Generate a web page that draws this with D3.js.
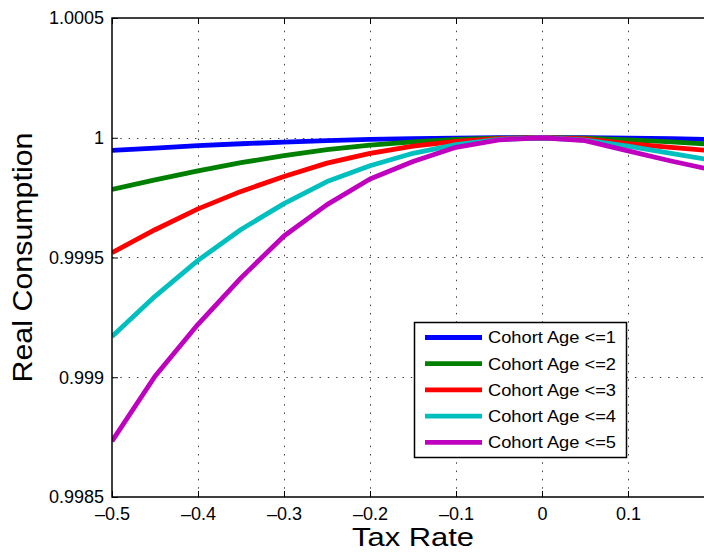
<!DOCTYPE html>
<html>
<head>
<meta charset="utf-8">
<script src="https://cdn.jsdelivr.net/npm/d3@7"></script>
<style>
  html, body { margin: 0; padding: 0; background: #fff; overflow: hidden; }
  svg { display: block; font-family: "Liberation Sans", Arial, Helvetica, sans-serif; }
</style>
</head>
<body>
<svg id="chart" width="704" height="552"></svg>
<script>
// ---- data ----
const taxRates = [-0.5, -0.45, -0.4, -0.35, -0.3, -0.25, -0.2, -0.15, -0.1, -0.05, 0, 0.05, 0.1, 0.15, 0.2];
const age1 = [0.999947, 0.999957, 0.999967, 0.999975, 0.999982, 0.999988, 0.999993, 0.999996, 0.999998, 1.0, 1.0, 1.0, 0.999998, 0.999996, 0.999992];
const age2 = [0.999784, 0.999824, 0.999862, 0.999896, 0.999925, 0.999950, 0.999969, 0.999983, 0.999993, 0.999998, 1.0, 0.999998, 0.999991, 0.999983, 0.999972];
const age3 = [0.999520, 0.999616, 0.999703, 0.999776, 0.999838, 0.999894, 0.999935, 0.999965, 0.999985, 0.999996, 1.0, 0.999995, 0.999975, 0.999960, 0.999945];
const age4 = [0.999170, 0.999338, 0.999488, 0.999617, 0.999725, 0.999817, 0.999883, 0.999935, 0.999971, 0.999993, 1.0, 0.999990, 0.999965, 0.999935, 0.999905];
const age5 = [0.998733, 0.999004, 0.999221, 0.999415, 0.999590, 0.999721, 0.999828, 0.999901, 0.999960, 0.999991, 1.0, 0.999988, 0.999945, 0.999903, 0.999864];
const seriesNames = ["Cohort Age <=1", "Cohort Age <=2", "Cohort Age <=3", "Cohort Age <=4", "Cohort Age <=5"];
const seriesColors = ["#0000ff", "#008000", "#ff0000", "#00bfbf", "#bf00bf"];
const xTickValues = [-0.5, -0.4, -0.3, -0.2, -0.1, 0, 0.1, 0.2];
const xTickLabels = ["\u20130.5", "\u20130.4", "\u20130.3", "\u20130.2", "\u20130.1", "0", "0.1", ""];
const yTickValues = [0.9985, 0.999, 0.9995, 1, 1.0005];
const yTickLabels = ["0.9985", "0.999", "0.9995", "1", "1.0005"];
const xTitle = "Tax Rate";
const yTitle = "Real Consumption";

// ---- layout ----
const mL = 112, mR = 714, mT = 18, mB = 497;
const svg = d3.select("#chart");
const x = d3.scaleLinear().domain([-0.5, 0.2]).range([mL, mR]);
const y = d3.scaleLinear().domain([0.9985, 1.0005]).range([mB, mT]);

// grid
const grid = svg.append("g").attr("stroke", "#444").attr("stroke-width", 1).attr("stroke-dasharray", "1.5,6.8");
grid.selectAll(".gx").data(xTickValues.slice(1)).enter().append("line")
  .attr("x1", d => Math.round(x(d)) + 0.5).attr("x2", d => Math.round(x(d)) + 0.5)
  .attr("y1", mB).attr("y2", mT);
grid.selectAll(".gy").data(yTickValues.slice(1, -1)).enter().append("line")
  .attr("y1", d => Math.round(y(d)) + 0.5).attr("y2", d => Math.round(y(d)) + 0.5)
  .attr("x1", mL).attr("x2", mR);

// clip
svg.append("clipPath").attr("id", "plotclip").append("rect")
  .attr("x", mL).attr("y", mT).attr("width", mR - mL).attr("height", mB - mT);

const allSeries = [age1, age2, age3, age4, age5];
const line = d3.line().x((d, i) => x(taxRates[i])).y(d => y(d));
svg.append("g").attr("clip-path", "url(#plotclip)")
  .selectAll("path").data(allSeries).enter().append("path")
  .attr("d", d => line(d))
  .attr("fill", "none")
  .attr("stroke", (d, i) => seriesColors[i])
  .attr("stroke-width", 4.8)
  .attr("stroke-linejoin", "round");

// axes
const axisStyle = g => {
  g.select(".domain").remove();
  g.selectAll(".tick line").attr("stroke", "#000").attr("stroke-width", 1);
  g.selectAll(".tick text").attr("fill", "#000").style("font-size", "18px")
    .style("font-family", "'Liberation Sans', Arial, Helvetica, sans-serif");
};
svg.append("g").attr("transform", `translate(0,${mB})`)
  .call(d3.axisBottom(x).tickValues(xTickValues).tickFormat((d, i) => xTickLabels[i]).tickSizeInner(-6).tickSizeOuter(0).tickPadding(10))
  .call(axisStyle);
svg.append("g").attr("transform", `translate(0,${mT})`)
  .call(d3.axisTop(x).tickValues(xTickValues).tickFormat("").tickSizeInner(-6).tickSizeOuter(0))
  .call(axisStyle);
svg.append("g").attr("transform", `translate(${mL},0)`)
  .call(d3.axisLeft(y).tickValues(yTickValues).tickFormat((d, i) => yTickLabels[i]).tickSizeInner(-6).tickSizeOuter(0).tickPadding(8))
  .call(axisStyle);

// box
svg.append("rect").attr("x", mL).attr("y", mT).attr("width", mR - mL).attr("height", mB - mT)
  .attr("fill", "none").attr("stroke", "#000").attr("stroke-width", 1.5);

// titles
svg.append("text").attr("x", (mL + mR) / 2).attr("y", 546).attr("text-anchor", "middle")
  .attr("textLength", 122).attr("lengthAdjust", "spacingAndGlyphs")
  .style("font-size", "26px").attr("fill", "#000").text(xTitle);
svg.append("text").attr("transform", `translate(32,${(mT + mB) / 2}) rotate(-90)`).attr("text-anchor", "middle")
  .attr("textLength", 250).attr("lengthAdjust", "spacingAndGlyphs")
  .style("font-size", "28px").attr("fill", "#000").text(yTitle);

// legend
const lg = svg.append("g");
lg.append("rect").attr("x", 414.5).attr("y", 322.5).attr("width", 212).attr("height", 135)
  .attr("fill", "#fff").attr("stroke", "#000").attr("stroke-width", 1.5);
seriesNames.forEach((name, i) => {
  const yy = 337.5 + i * 26.2;
  lg.append("line").attr("x1", 425).attr("x2", 482).attr("y1", yy).attr("y2", yy)
    .attr("stroke", seriesColors[i]).attr("stroke-width", 4.8);
  lg.append("text").attr("x", 488).attr("y", yy).attr("dy", "0.35em")
    .attr("textLength", 128).attr("lengthAdjust", "spacingAndGlyphs")
    .style("font-size", "17px").attr("fill", "#000").text(name);
});
</script>
</body>
</html>
